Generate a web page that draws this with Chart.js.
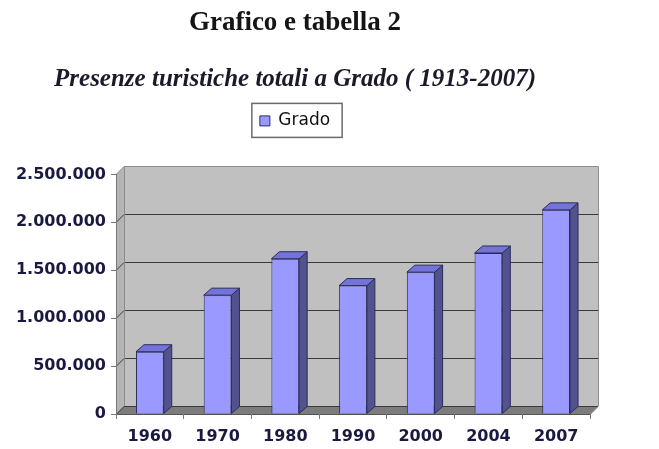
<!DOCTYPE html>
<html>
<head>
<meta charset="utf-8">
<title>Grafico e tabella 2</title>
<script src="https://cdn.jsdelivr.net/npm/chart.js@4.4.1/dist/chart.umd.min.js"></script>
<style>
  html, body { margin: 0; padding: 0; background: #fff; }
  canvas { display: block; }
</style>
</head>
<body>
<canvas id="grado" width="659" height="449"></canvas>
<script>
// data
const years = ['1960', '1970', '1980', '1990', '2000', '2004', '2007'];
const presenze = [650000, 1240000, 1620000, 1340000, 1480000, 1680000, 2130000];
const yTicks = [0, 500000, 1000000, 1500000, 2000000, 2500000];

const DX = 8, DY = 8;        // depth of the walls
const BX = 8, BY = 7;        // depth of the bars

function fmt(v) {
    return String(v).replace(/\B(?=(\d{3})+(?!\d))/g, '.');
}

// gray back wall, side wall, floor and grid lines
const walls = {
    id: 'walls',
    beforeLayout(chart) {
        const lg = chart.legend;
        if (lg && !lg._extra) {
            const fit = lg.fit.bind(lg);
            lg.fit = function () { fit(); this.height += 35; };
            lg._extra = true;
        }
    },
    beforeDraw(chart) {
        const {ctx, chartArea: a, scales: {y}} = chart;
        ctx.save();
        // back wall
        ctx.fillStyle = '#c0c0c0';
        ctx.fillRect(a.left + DX, a.top - DY, a.right - a.left, a.bottom - a.top);
        // side wall
        ctx.fillStyle = '#b4b4b4';
        ctx.beginPath();
        ctx.moveTo(a.left, a.top);
        ctx.lineTo(a.left + DX, a.top - DY);
        ctx.lineTo(a.left + DX, a.bottom - DY);
        ctx.lineTo(a.left, a.bottom);
        ctx.closePath();
        ctx.fill();
        // floor
        ctx.fillStyle = '#7c7c7c';
        ctx.beginPath();
        ctx.moveTo(a.left, a.bottom);
        ctx.lineTo(a.left + DX, a.bottom - DY);
        ctx.lineTo(a.right + DX, a.bottom - DY);
        ctx.lineTo(a.right, a.bottom);
        ctx.closePath();
        ctx.fill();
        // grid lines
        ctx.lineWidth = 1;
        yTicks.forEach(v => {
            const py = Math.round(y.getPixelForValue(v)) + 0.5;
            ctx.strokeStyle = v === 2500000 ? '#8c8c8c' : '#3a3a3a';
            ctx.beginPath();
            ctx.moveTo(a.left, py);
            ctx.lineTo(a.left + DX, py - DY);
            ctx.lineTo(a.right + DX, py - DY);
            ctx.stroke();
        });
        // wall edges
        ctx.strokeStyle = '#8c8c8c';
        ctx.beginPath();
        ctx.moveTo(a.left + DX + 0.5, a.top - DY);
        ctx.lineTo(a.left + DX + 0.5, a.bottom - DY);
        ctx.moveTo(a.right + DX + 0.5, a.top - DY);
        ctx.lineTo(a.right + DX + 0.5, a.bottom - DY);
        ctx.stroke();
        ctx.strokeStyle = '#555';
        ctx.beginPath();
        ctx.moveTo(a.left, a.bottom + 0.5);
        ctx.lineTo(a.right, a.bottom + 0.5);
        ctx.lineTo(a.right + DX, a.bottom - DY + 0.5);
        ctx.stroke();
        ctx.restore();
    },
    afterDatasetsDraw(chart) {
        const ctx = chart.ctx;
        ctx.save();
        ctx.lineWidth = 1;
        ctx.strokeStyle = '#2c2c5c';
        chart.getDatasetMeta(0).data.forEach(bar => {
            const {x, y, base, width} = bar.getProps(['x', 'y', 'base', 'width'], true);
            const l = x - width / 2, r = x + width / 2;
            // side
            ctx.fillStyle = '#52528f';
            ctx.beginPath();
            ctx.moveTo(r, y);
            ctx.lineTo(r + BX, y - BY);
            ctx.lineTo(r + BX, base - BY);
            ctx.lineTo(r, base);
            ctx.closePath();
            ctx.fill();
            ctx.stroke();
            // top
            ctx.fillStyle = '#7474d8';
            ctx.beginPath();
            ctx.moveTo(l, y);
            ctx.lineTo(l + BX, y - BY);
            ctx.lineTo(r + BX, y - BY);
            ctx.lineTo(r, y);
            ctx.closePath();
            ctx.fill();
            ctx.stroke();
        });
        ctx.restore();
    },
    afterDraw(chart) {
        // frame around the legend
        const box = chart.legend.legendHitBoxes[0];
        if (!box) return;
        const ctx = chart.ctx;
        ctx.save();
        ctx.strokeStyle = '#6a6a6a';
        ctx.lineWidth = 1.5;
        ctx.strokeRect(box.left - 8, box.top - 9, box.width + 20, box.height + 17);
        ctx.restore();
    }
};

new Chart(document.getElementById('grado'), {
    type: 'bar',
    data: {
        labels: years,
        datasets: [{
            label: 'Grado',
            data: presenze,
            backgroundColor: '#9999ff',
            borderColor: '#2c2c5c',
            borderWidth: 1,
            categoryPercentage: 0.82,
            barPercentage: 0.5
        }]
    },
    options: {
        responsive: false,
        animation: false,
        devicePixelRatio: 1,
        layout: { padding: { top: 0, right: 69, bottom: 0, left: 0 } },
        plugins: {
            title: {
                display: true,
                text: 'Grafico e tabella 2',
                color: '#151515',
                font: { family: "'Liberation Serif', 'Times New Roman', serif", size: 27, weight: 'bold' },
                padding: { top: 7, bottom: 0 }
            },
            subtitle: {
                display: true,
                text: 'Presenze turistiche totali a Grado ( 1913-2007)',
                color: '#1a1a2a',
                font: { family: "'Liberation Serif', 'Times New Roman', serif", size: 25, style: 'italic', weight: 'bold' },
                padding: { top: 25, bottom: 0 }
            },
            legend: {
                display: true,
                position: 'top',
                labels: {
                    color: '#111',
                    font: { family: "'DejaVu Sans', Arial, sans-serif", size: 17 },
                    boxWidth: 10,
                    boxHeight: 10,
                    padding: 18
                }
            },
            tooltip: { enabled: false }
        },
        scales: {
            x: {
                grid: { display: true, drawOnChartArea: false, offset: true, tickLength: 5, color: '#777' },
                border: { display: false },
                ticks: {
                    color: '#1a1a40',
                    font: { family: "'DejaVu Sans', Arial, sans-serif", size: 16, weight: 'bold' },
                    padding: 8
                },
                afterFit(scale) { scale.height = 35; }
            },
            y: {
                min: 0,
                max: 2500000,
                afterBuildTicks(scale) { scale.ticks = yTicks.map(v => ({ value: v })); },
                grid: { display: true, drawOnChartArea: false, tickLength: 5, color: '#777' },
                border: { display: true, color: '#777' },
                ticks: {
                    color: '#1a1a40',
                    font: { family: "'DejaVu Sans', Arial, sans-serif", size: 16, weight: 'bold' },
                    padding: 5,
                    callback: v => fmt(v)
                },
                afterFit(scale) { scale.width = 116; }
            }
        }
    },
    plugins: [walls]
});
</script>
</body>
</html>
